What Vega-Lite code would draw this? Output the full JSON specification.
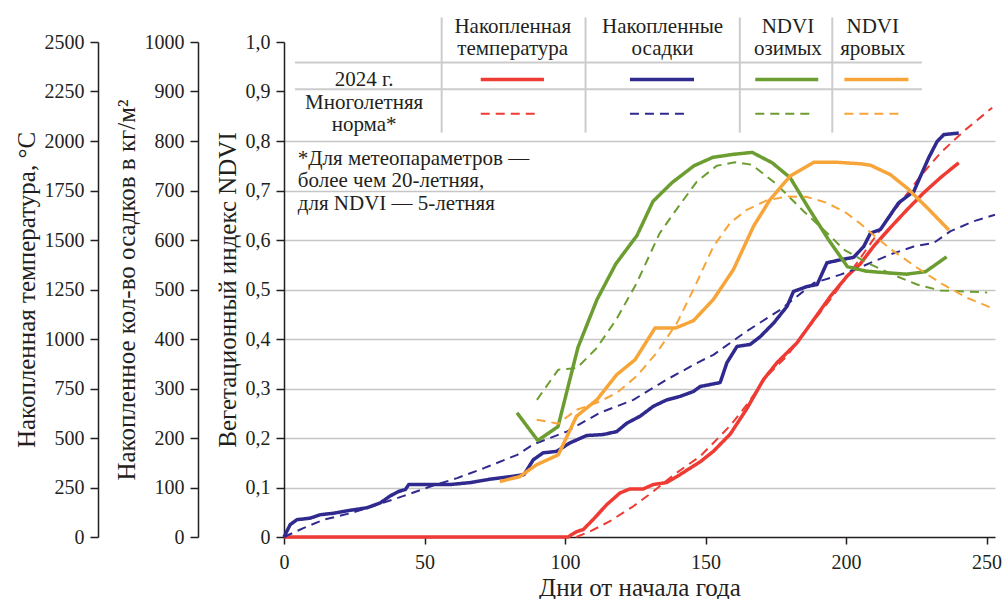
{
  "$schema": "https://vega.github.io/schema/vega-lite/v6.json",
  "width": 711,
  "height": 495,
  "autosize": {"type": "none"},
  "padding": {"left": 284, "top": 42, "right": 10, "bottom": 62},
  "background": "white",
  "config": {
    "font": "Liberation Serif",
    "view": {"stroke": null},
    "axis": {
      "domainColor": "#231f20", "domainWidth": 1.5,
      "tickColor": "#231f20", "tickWidth": 1.5, "tickSize": 8,
      "labelFont": "Liberation Serif", "labelFontSize": 20, "labelColor": "#231f20",
      "titleFont": "Liberation Serif", "titleFontSize": 25, "titleFontWeight": "normal", "titleColor": "#231f20",
      "labelPadding": 6, "titlePadding": 5, "grid": false, "labelOverlap": false, "labelFlush": false
    }
  },
  "datasets": {
    "temp": [
      {"v":"temp","k":"a","d":0,"t":0},{"v":"temp","k":"a","d":101,"t":0},{"v":"temp","k":"a","d":104.1,"t":27},{"v":"temp","k":"a","d":106.5,"t":38},{"v":"temp","k":"a","d":110,"t":88},{"v":"temp","k":"a","d":114.8,"t":163},{"v":"temp","k":"a","d":119.6,"t":223},{"v":"temp","k":"a","d":123.1,"t":243},{"v":"temp","k":"a","d":127.9,"t":243},{"v":"temp","k":"a","d":131.4,"t":265},{"v":"temp","k":"a","d":136.2,"t":275},{"v":"temp","k":"a","d":140.9,"t":315},{"v":"temp","k":"a","d":148.1,"t":380},{"v":"temp","k":"a","d":152.8,"t":433},{"v":"temp","k":"a","d":158.8,"t":520},{"v":"temp","k":"a","d":164.7,"t":648},{"v":"temp","k":"a","d":170.6,"t":795},{"v":"temp","k":"a","d":175.4,"t":880},{"v":"temp","k":"a","d":182.5,"t":980},{"v":"temp","k":"a","d":188.5,"t":1098},{"v":"temp","k":"a","d":194.4,"t":1215},{"v":"temp","k":"a","d":200.4,"t":1318},{"v":"temp","k":"a","d":205.1,"t":1380},{"v":"temp","k":"a","d":209.8,"t":1468},{"v":"temp","k":"a","d":215.8,"t":1563},{"v":"temp","k":"a","d":221.7,"t":1653},{"v":"temp","k":"a","d":227.6,"t":1738},{"v":"temp","k":"a","d":233.6,"t":1815},{"v":"temp","k":"a","d":240.1,"t":1890},
      {"v":"temp","k":"b","d":104,"t":0},{"v":"temp","k":"b","d":108.9,"t":28},{"v":"temp","k":"b","d":116,"t":80},{"v":"temp","k":"b","d":124.3,"t":155},{"v":"temp","k":"b","d":131.4,"t":230},{"v":"temp","k":"b","d":138.6,"t":313},{"v":"temp","k":"b","d":148.1,"t":408},{"v":"temp","k":"b","d":152.8,"t":475},{"v":"temp","k":"b","d":158.8,"t":563},{"v":"temp","k":"b","d":164.7,"t":668},{"v":"temp","k":"b","d":171.8,"t":813},{"v":"temp","k":"b","d":178.9,"t":913},{"v":"temp","k":"b","d":186.1,"t":1048},{"v":"temp","k":"b","d":194.4,"t":1200},{"v":"temp","k":"b","d":203.9,"t":1385},{"v":"temp","k":"b","d":212.2,"t":1553},{"v":"temp","k":"b","d":219.3,"t":1688},{"v":"temp","k":"b","d":226.5,"t":1823},{"v":"temp","k":"b","d":233.6,"t":1940},{"v":"temp","k":"b","d":241.9,"t":2050},{"v":"temp","k":"b","d":252,"t":2168}
    ],
    "precip": [
      {"v":"precip","k":"a","d":0,"p":0},{"v":"precip","k":"a","d":2.2,"p":25},{"v":"precip","k":"a","d":4.6,"p":35},{"v":"precip","k":"a","d":9.3,"p":38},{"v":"precip","k":"a","d":12.9,"p":45},{"v":"precip","k":"a","d":17.6,"p":48},{"v":"precip","k":"a","d":23.6,"p":54},{"v":"precip","k":"a","d":29.5,"p":59},{"v":"precip","k":"a","d":34.3,"p":69},{"v":"precip","k":"a","d":37.8,"p":83},{"v":"precip","k":"a","d":40.8,"p":92},{"v":"precip","k":"a","d":43.2,"p":96},{"v":"precip","k":"a","d":44.4,"p":106},{"v":"precip","k":"a","d":50.9,"p":106},{"v":"precip","k":"a","d":59.2,"p":106},{"v":"precip","k":"a","d":66.4,"p":110},{"v":"precip","k":"a","d":73.5,"p":117},{"v":"precip","k":"a","d":80.6,"p":122},{"v":"precip","k":"a","d":85.4,"p":126},{"v":"precip","k":"a","d":88.7,"p":156},{"v":"precip","k":"a","d":92.2,"p":170},{"v":"precip","k":"a","d":97,"p":173},{"v":"precip","k":"a","d":101.7,"p":190},{"v":"precip","k":"a","d":107.7,"p":205},{"v":"precip","k":"a","d":113.6,"p":207},{"v":"precip","k":"a","d":118.4,"p":213},{"v":"precip","k":"a","d":122,"p":230},{"v":"precip","k":"a","d":126.7,"p":244},{"v":"precip","k":"a","d":131.4,"p":264},{"v":"precip","k":"a","d":136.2,"p":277},{"v":"precip","k":"a","d":140.9,"p":284},{"v":"precip","k":"a","d":145.7,"p":294},{"v":"precip","k":"a","d":148.1,"p":304},{"v":"precip","k":"a","d":155.2,"p":312},{"v":"precip","k":"a","d":157.6,"p":352},{"v":"precip","k":"a","d":161.2,"p":385},{"v":"precip","k":"a","d":165.9,"p":389},{"v":"precip","k":"a","d":169.5,"p":405},{"v":"precip","k":"a","d":174.2,"p":432},{"v":"precip","k":"a","d":179,"p":466},{"v":"precip","k":"a","d":181.3,"p":496},{"v":"precip","k":"a","d":186.1,"p":506},{"v":"precip","k":"a","d":189.7,"p":510},{"v":"precip","k":"a","d":193.2,"p":554},{"v":"precip","k":"a","d":198,"p":560},{"v":"precip","k":"a","d":202.7,"p":565},{"v":"precip","k":"a","d":206.3,"p":587},{"v":"precip","k":"a","d":208.7,"p":614},{"v":"precip","k":"a","d":212.2,"p":621},{"v":"precip","k":"a","d":215.8,"p":651},{"v":"precip","k":"a","d":218.7,"p":675},{"v":"precip","k":"a","d":221.7,"p":688},{"v":"precip","k":"a","d":224.1,"p":698},{"v":"precip","k":"a","d":226.5,"p":729},{"v":"precip","k":"a","d":229.4,"p":766},{"v":"precip","k":"a","d":232.4,"p":799},{"v":"precip","k":"a","d":234.8,"p":813},{"v":"precip","k":"a","d":240.1,"p":816},
      {"v":"precip","k":"b","d":0,"p":0},{"v":"precip","k":"b","d":6.9,"p":18},{"v":"precip","k":"b","d":14.1,"p":35},{"v":"precip","k":"b","d":23.6,"p":48},{"v":"precip","k":"b","d":33.1,"p":65},{"v":"precip","k":"b","d":42.6,"p":83},{"v":"precip","k":"b","d":52.1,"p":102},{"v":"precip","k":"b","d":61.6,"p":119},{"v":"precip","k":"b","d":71.1,"p":139},{"v":"precip","k":"b","d":83,"p":166},{"v":"precip","k":"b","d":88.7,"p":187},{"v":"precip","k":"b","d":100.6,"p":213},{"v":"precip","k":"b","d":112.4,"p":251},{"v":"precip","k":"b","d":124.3,"p":277},{"v":"precip","k":"b","d":136.2,"p":318},{"v":"precip","k":"b","d":148.1,"p":355},{"v":"precip","k":"b","d":152.8,"p":368},{"v":"precip","k":"b","d":164.7,"p":416},{"v":"precip","k":"b","d":176.6,"p":459},{"v":"precip","k":"b","d":188.5,"p":513},{"v":"precip","k":"b","d":198,"p":530},{"v":"precip","k":"b","d":205.1,"p":545},{"v":"precip","k":"b","d":215.8,"p":571},{"v":"precip","k":"b","d":224.1,"p":587},{"v":"precip","k":"b","d":231.2,"p":594},{"v":"precip","k":"b","d":237.2,"p":618},{"v":"precip","k":"b","d":245.5,"p":638},{"v":"precip","k":"b","d":253,"p":651}
    ],
    "ndvi": [
      {"v":"winter","k":"a","d":82.9,"n":0.251},{"v":"winter","k":"a","d":90.3,"n":0.195},{"v":"winter","k":"a","d":97.5,"n":0.223},{"v":"winter","k":"a","d":104.6,"n":0.383},{"v":"winter","k":"a","d":111.4,"n":0.48},{"v":"winter","k":"a","d":118.1,"n":0.552},{"v":"winter","k":"a","d":125.6,"n":0.609},{"v":"winter","k":"a","d":131.3,"n":0.678},{"v":"winter","k":"a","d":138.1,"n":0.716},{"v":"winter","k":"a","d":145.9,"n":0.75},{"v":"winter","k":"a","d":152.6,"n":0.767},{"v":"winter","k":"a","d":159.8,"n":0.773},{"v":"winter","k":"a","d":166.6,"n":0.777},{"v":"winter","k":"a","d":173.7,"n":0.756},{"v":"winter","k":"a","d":180.1,"n":0.726},{"v":"winter","k":"a","d":186.5,"n":0.666},{"v":"winter","k":"a","d":193.7,"n":0.601},{"v":"winter","k":"a","d":200.5,"n":0.546},{"v":"winter","k":"a","d":207.2,"n":0.537},{"v":"winter","k":"a","d":214,"n":0.534},{"v":"winter","k":"a","d":221.5,"n":0.531},{"v":"winter","k":"a","d":228.3,"n":0.536},{"v":"winter","k":"a","d":235.8,"n":0.566},
      {"v":"winter","k":"b","d":90,"n":0.277},{"v":"winter","k":"b","d":97.6,"n":0.338},{"v":"winter","k":"b","d":104.2,"n":0.341},{"v":"winter","k":"b","d":111.3,"n":0.382},{"v":"winter","k":"b","d":118.3,"n":0.44},{"v":"winter","k":"b","d":125.5,"n":0.513},{"v":"winter","k":"b","d":133.7,"n":0.614},{"v":"winter","k":"b","d":139.8,"n":0.663},{"v":"winter","k":"b","d":146.9,"n":0.718},{"v":"winter","k":"b","d":154,"n":0.75},{"v":"winter","k":"b","d":160.5,"n":0.757},{"v":"winter","k":"b","d":166.5,"n":0.752},{"v":"winter","k":"b","d":175.4,"n":0.712},{"v":"winter","k":"b","d":184.9,"n":0.658},{"v":"winter","k":"b","d":194.4,"n":0.608},{"v":"winter","k":"b","d":199.1,"n":0.581},{"v":"winter","k":"b","d":207.5,"n":0.554},{"v":"winter","k":"b","d":217,"n":0.529},{"v":"winter","k":"b","d":225.3,"n":0.51},{"v":"winter","k":"b","d":233.6,"n":0.498},{"v":"winter","k":"b","d":250.2,"n":0.494},
      {"v":"spring","k":"a","d":76.8,"n":0.112},{"v":"spring","k":"a","d":83.9,"n":0.122},{"v":"spring","k":"a","d":89.9,"n":0.146},{"v":"spring","k":"a","d":97.6,"n":0.166},{"v":"spring","k":"a","d":104.1,"n":0.244},{"v":"spring","k":"a","d":111.3,"n":0.277},{"v":"spring","k":"a","d":118.4,"n":0.328},{"v":"spring","k":"a","d":124.9,"n":0.358},{"v":"spring","k":"a","d":132,"n":0.422},{"v":"spring","k":"a","d":139.2,"n":0.422},{"v":"spring","k":"a","d":145.7,"n":0.437},{"v":"spring","k":"a","d":152.8,"n":0.48},{"v":"spring","k":"a","d":159.9,"n":0.54},{"v":"spring","k":"a","d":167.1,"n":0.628},{"v":"spring","k":"a","d":173,"n":0.682},{"v":"spring","k":"a","d":180.1,"n":0.729},{"v":"spring","k":"a","d":188.5,"n":0.757},{"v":"spring","k":"a","d":196.8,"n":0.757},{"v":"spring","k":"a","d":205.1,"n":0.754},{"v":"spring","k":"a","d":208.7,"n":0.751},{"v":"spring","k":"a","d":215.8,"n":0.732},{"v":"spring","k":"a","d":221.7,"n":0.705},{"v":"spring","k":"a","d":228.9,"n":0.665},{"v":"spring","k":"a","d":236.6,"n":0.62},
      {"v":"spring","k":"b","d":89.9,"n":0.237},{"v":"spring","k":"b","d":97.6,"n":0.229},{"v":"spring","k":"b","d":104.1,"n":0.257},{"v":"spring","k":"b","d":111.3,"n":0.271},{"v":"spring","k":"b","d":118.4,"n":0.291},{"v":"spring","k":"b","d":125.5,"n":0.325},{"v":"spring","k":"b","d":132.6,"n":0.372},{"v":"spring","k":"b","d":139.8,"n":0.432},{"v":"spring","k":"b","d":145.7,"n":0.5},{"v":"spring","k":"b","d":152.8,"n":0.587},{"v":"spring","k":"b","d":158.8,"n":0.635},{"v":"spring","k":"b","d":164.7,"n":0.661},{"v":"spring","k":"b","d":171.8,"n":0.68},{"v":"spring","k":"b","d":179,"n":0.688},{"v":"spring","k":"b","d":186.1,"n":0.687},{"v":"spring","k":"b","d":193.2,"n":0.675},{"v":"spring","k":"b","d":200,"n":0.655},{"v":"spring","k":"b","d":205.1,"n":0.633},{"v":"spring","k":"b","d":211,"n":0.604},{"v":"spring","k":"b","d":217,"n":0.577},{"v":"spring","k":"b","d":225.3,"n":0.544},{"v":"spring","k":"b","d":233.6,"n":0.513},{"v":"spring","k":"b","d":243.1,"n":0.483},{"v":"spring","k":"b","d":252.6,"n":0.461}
    ],
    "tablelines": [
      {"d":3.9,"d2":227,"n":0.9586,"n2":0.9586},
      {"d":3.9,"d2":227,"n":0.9044,"n2":0.9044},
      {"d":56.1,"d2":56.1,"n":1.0495,"n2":0.817},
      {"d":107.3,"d2":107.3,"n":1.0495,"n2":0.817},
      {"d":162.2,"d2":162.2,"n":1.0495,"n2":0.817},
      {"d":195.1,"d2":195.1,"n":1.0495,"n2":0.817}
    ],
    "legend": [
      {"v":"temp","k":"a","d":70.0,"d2":92.5,"n":0.9242},
      {"v":"precip","k":"a","d":123.1,"d2":145.9,"n":0.9242},
      {"v":"winter","k":"a","d":167.7,"d2":190.1,"n":0.9242},
      {"v":"spring","k":"a","d":199.4,"d2":222.2,"n":0.9242},
      {"v":"temp","k":"b","d":70.0,"d2":90.3,"n":0.855},
      {"v":"precip","k":"b","d":123.1,"d2":143.8,"n":0.855},
      {"v":"winter","k":"b","d":167.7,"d2":188.0,"n":0.855},
      {"v":"spring","k":"b","d":199.4,"d2":220.1,"n":0.855}
    ],
    "labels": [
      {"d":81.4,"n":1.0186,"s":"Накопленная"},
      {"d":81.4,"n":0.9747,"s":"температура"},
      {"d":134.7,"n":1.0186,"s":"Накопленные"},
      {"d":134.7,"n":0.9747,"s":"осадки"},
      {"d":179.3,"n":1.0186,"s":"NDVI"},
      {"d":179.3,"n":0.9747,"s":"озимых"},
      {"d":209.5,"n":1.0186,"s":"NDVI"},
      {"d":209.5,"n":0.9747,"s":"яровых"},
      {"d":28.5,"n":0.9121,"s":"2024 г."},
      {"d":28.5,"n":0.8655,"s":"Многолетняя"},
      {"d":28.5,"n":0.8205,"s":"норма*"}
    ],
    "notes": [
      {"d":4.9,"n":0.7510,"s":"*Для метеопараметров —"},
      {"d":4.9,"n":0.7062,"s":"более чем 20-летняя,"},
      {"d":4.9,"n":0.6614,"s":"для NDVI — 5-летняя"}
    ]
  },
  "encoding": {
    "x": {
      "field": "d", "type": "quantitative",
      "scale": {"domain": [0, 253], "nice": false, "zero": false},
      "axis": {"values": [0, 50, 100, 150, 200, 250], "title": "Дни от начала года", "tickSize": 7, "labelPadding": 8, "titlePadding": 3, "titleFontSize": 25}
    }
  },
  "layer": [
    {
      "data": {"name": "temp"},
      "mark": {"type": "line", "strokeJoin": "round"},
      "encoding": {
        "y": {"field": "t", "type": "quantitative", "scale": {"domain": [0, 2500], "nice": false},
          "axis": {"orient": "left", "offset": 186, "values": [0,250,500,750,1000,1250,1500,1750,2000,2250,2500], "format": "d", "title": "Накопленная температура, °C"}},
        "color": {"field": "v", "type": "nominal", "scale": {"domain": ["temp","precip","winter","spring"], "range": ["#EE3B34","#302A8E","#6C9D30","#F7A538"]}, "legend": null},
        "strokeDash": {"field": "k", "type": "nominal", "scale": {"domain": ["a","b"], "range": [[1,0],[9,6]]}, "legend": null},
        "strokeWidth": {"field": "k", "type": "nominal", "scale": {"domain": ["a","b"], "range": [3.5, 2]}, "legend": null}
      }
    },
    {
      "data": {"name": "precip"},
      "mark": {"type": "line", "strokeJoin": "round"},
      "encoding": {
        "y": {"field": "p", "type": "quantitative", "scale": {"domain": [0, 1000], "nice": false},
          "axis": {"orient": "left", "offset": 86, "values": [0,100,200,300,400,500,600,700,800,900,1000], "format": "d", "title": "Накопленное кол-во осадков в кг/м²"}},
        "color": {"field": "v", "type": "nominal", "legend": null},
        "strokeDash": {"field": "k", "type": "nominal", "legend": null},
        "strokeWidth": {"field": "k", "type": "nominal", "legend": null}
      }
    },
    {
      "data": {"name": "tablelines"},
      "mark": {"type": "rule", "color": "#cccccc", "strokeWidth": 2},
      "encoding": {
        "x2": {"field": "d2"},
        "y": {"field": "n", "type": "quantitative", "scale": {"domain": [0, 1], "nice": false}, "axis": null},
        "y2": {"field": "n2"}
      }
    },
    {
      "data": {"name": "ndvi"},
      "mark": {"type": "line", "strokeJoin": "round"},
      "encoding": {
        "y": {"field": "n", "type": "quantitative", "scale": {"domain": [0, 1], "nice": false},
          "axis": {"orient": "left", "offset": 0, "values": [0,0.1,0.2,0.3,0.4,0.5,0.6,0.7,0.8,0.9,1.0],
            "labelExpr": "datum.value == 0 ? '0' : replace(format(datum.value, '.1f'), '.', ',')",
            "title": "Вегетационный индекс NDVI",
            "grid": true, "gridColor": "#c6c6c6", "gridWidth": 1.5,
            "gridOpacity": {"condition": {"test": "datum.value > 0.85 || datum.value < 0.05", "value": 0}, "value": 1}}},
        "color": {"field": "v", "type": "nominal", "legend": null},
        "strokeDash": {"field": "k", "type": "nominal", "legend": null},
        "strokeWidth": {"field": "k", "type": "nominal", "legend": null}
      }
    },
    {
      "data": {"name": "legend"},
      "mark": {"type": "rule"},
      "encoding": {
        "x2": {"field": "d2"},
        "y": {"field": "n", "type": "quantitative", "scale": {"domain": [0, 1], "nice": false}, "axis": null},
        "color": {"field": "v", "type": "nominal", "legend": null},
        "strokeDash": {"field": "k", "type": "nominal", "legend": null},
        "strokeWidth": {"field": "k", "type": "nominal", "legend": null}
      }
    },
    {
      "data": {"name": "labels"},
      "mark": {"type": "text", "font": "Liberation Serif", "fontSize": 21, "align": "center", "baseline": "alphabetic", "color": "#231f20"},
      "encoding": {
        "y": {"field": "n", "type": "quantitative", "scale": {"domain": [0, 1], "nice": false}, "axis": null},
        "text": {"field": "s"}
      }
    },
    {
      "data": {"name": "notes"},
      "mark": {"type": "text", "font": "Liberation Serif", "fontSize": 21, "align": "left", "baseline": "alphabetic", "color": "#231f20"},
      "encoding": {
        "y": {"field": "n", "type": "quantitative", "scale": {"domain": [0, 1], "nice": false}, "axis": null},
        "text": {"field": "s"}
      }
    }
  ],
  "resolve": {"scale": {"y": "independent"}}
}
